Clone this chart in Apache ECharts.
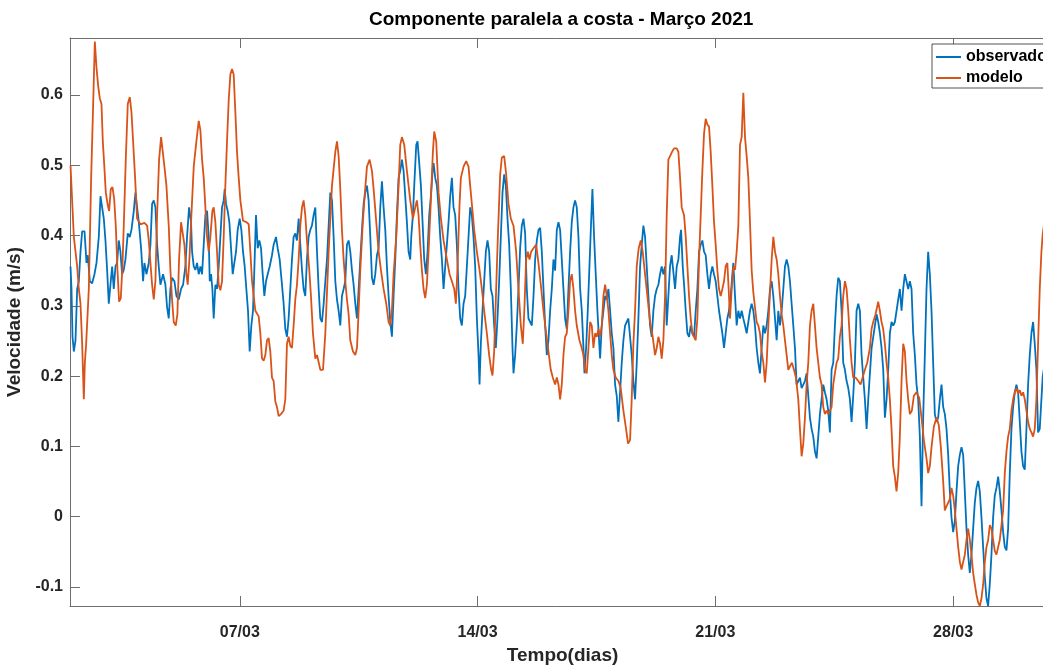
<!DOCTYPE html>
<html>
<head>
<meta charset="utf-8">
<script src="https://cdn.jsdelivr.net/npm/echarts@6/dist/echarts.min.js"></script>
<style>
html,body{margin:0;padding:0;background:#fff;overflow:hidden;}
#chart{width:1043px;height:665px;}
</style>
</head>
<body>
<div id="chart"></div>
<script>
// time in days of March 2021 (2.0 = 02/03 00:00), velocity in m/s
const observado = [
[2.015,.356],[2.044,.324],[2.074,.256],[2.113,.235],[2.162,.251],[2.211,.324],[2.260,.335],[2.309,.377],[2.358,.406],[2.427,.406],
[2.486,.361],[2.525,.372],[2.584,.335],[2.652,.332],[2.721,.345],[2.780,.361],[2.848,.398],[2.897,.456],[2.946,.440],[2.995,.424],
[3.044,.393],[3.093,.351],[3.142,.303],[3.191,.330],[3.240,.356],[3.289,.324],[3.338,.356],[3.387,.361],[3.436,.393],[3.485,.377],
[3.534,.345],[3.583,.351],[3.632,.366],[3.701,.403],[3.760,.398],[3.809,.408],[3.878,.435],[3.927,.461],[3.976,.440],[4.025,.419],
[4.093,.382],[4.152,.335],[4.191,.361],[4.250,.345],[4.319,.361],[4.368,.387],[4.417,.445],[4.466,.450],[4.515,.440],[4.564,.387],
[4.613,.356],[4.662,.330],[4.740,.345],[4.809,.330],[4.858,.298],[4.907,.282],[4.956,.324],[5.005,.340],[5.074,.335],[5.133,.314],
[5.201,.309],[5.270,.324],[5.329,.330],[5.397,.356],[5.446,.398],[5.505,.440],[5.564,.419],[5.594,.377],[5.643,.356],[5.692,.351],
[5.741,.361],[5.790,.345],[5.839,.356],[5.888,.345],[5.937,.387],[5.986,.429],[6.035,.435],[6.084,.398],[6.114,.335],[6.153,.345],
[6.192,.324],[6.231,.282],[6.280,.330],[6.329,.324],[6.378,.356],[6.427,.398],[6.476,.440],[6.525,.450],[6.555,.466],[6.594,.445],
[6.643,.435],[6.692,.419],[6.741,.382],[6.790,.345],[6.839,.345],[6.888,.377],[6.937,.408],[6.996,.424],[7.045,.408],[7.094,.377],
[7.143,.356],[7.192,.324],[7.241,.293],[7.290,.235],[7.339,.272],[7.388,.293],[7.427,.351],[7.476,.429],[7.526,.382],[7.575,.393],
[7.624,.382],[7.673,.345],[7.722,.314],[7.771,.335],[7.820,.345],[7.879,.356],[7.947,.372],[7.996,.387],[8.065,.398],[8.114,.382],
[8.173,.366],[8.232,.335],[8.290,.303],[8.339,.267],[8.388,.256],[8.437,.282],[8.486,.324],[8.535,.366],[8.584,.398],[8.633,.403],
[8.682,.393],[8.732,.424],[8.781,.387],[8.830,.351],[8.878,.324],[8.927,.314],[8.976,.366],[9.025,.398],[9.074,.408],[9.123,.414],
[9.172,.429],[9.222,.440],[9.272,.377],[9.321,.324],[9.370,.282],[9.419,.277],[9.468,.303],[9.517,.335],[9.566,.366],[9.615,.414],
[9.664,.461],[9.713,.450],[9.762,.398],[9.811,.335],[9.860,.309],[9.909,.293],[9.958,.272],[10.007,.314],[10.056,.324],[10.105,.335],
[10.154,.387],[10.203,.393],[10.252,.377],[10.301,.351],[10.350,.330],[10.400,.303],[10.449,.282],[10.498,.324],[10.547,.366],[10.596,.408],
[10.645,.445],[10.694,.461],[10.743,.471],[10.792,.450],[10.841,.398],[10.890,.340],[10.939,.330],[10.988,.345],[11.037,.372],[11.086,.382],
[11.135,.440],[11.184,.477],[11.233,.440],[11.282,.408],[11.331,.356],[11.380,.314],[11.429,.277],[11.478,.256],[11.527,.314],[11.576,.366],
[11.625,.429],[11.674,.482],[11.723,.492],[11.772,.508],[11.821,.492],[11.870,.456],[11.919,.419],[11.968,.377],[12.017,.366],[12.047,.398],
[12.096,.429],[12.135,.471],[12.194,.529],[12.233,.534],[12.282,.503],[12.331,.471],[12.380,.419],[12.429,.366],[12.478,.345],[12.527,.377],
[12.576,.429],[12.625,.456],[12.684,.498],[12.704,.503],[12.753,.482],[12.802,.471],[12.851,.440],[12.900,.398],[12.949,.366],[12.998,.324],
[13.047,.356],[13.096,.387],[13.145,.419],[13.194,.456],[13.243,.482],[13.292,.440],[13.341,.429],[13.390,.387],[13.439,.324],[13.488,.282],
[13.537,.272],[13.586,.303],[13.635,.314],[13.684,.356],[13.733,.398],[13.782,.440],[13.831,.429],[13.880,.398],[13.929,.356],[13.979,.282],
[14.028,.230],[14.057,.188],[14.096,.246],[14.145,.293],[14.194,.335],[14.243,.377],[14.292,.393],[14.341,.377],[14.390,.324],[14.439,.314],
[14.488,.272],[14.537,.240],[14.586,.282],[14.635,.335],[14.684,.398],[14.734,.461],[14.783,.487],[14.832,.471],[14.881,.424],[14.930,.387],
[14.979,.324],[15.028,.240],[15.057,.204],[15.106,.230],[15.155,.272],[15.204,.324],[15.253,.382],[15.302,.414],[15.351,.424],[15.400,.403],
[15.449,.324],[15.498,.282],[15.548,.277],[15.597,.272],[15.646,.314],[15.695,.366],[15.744,.393],[15.793,.408],[15.842,.411],[15.891,.377],
[15.940,.324],[15.989,.272],[16.038,.230],[16.087,.251],[16.136,.293],[16.185,.324],[16.234,.366],[16.283,.350],[16.332,.408],[16.381,.419],
[16.430,.408],[16.479,.366],[16.528,.324],[16.577,.282],[16.626,.267],[16.675,.324],[16.724,.377],[16.773,.419],[16.822,.440],[16.871,.450],
[16.920,.440],[16.970,.398],[17.019,.324],[17.068,.293],[17.117,.240],[17.146,.204],[17.195,.240],[17.244,.293],[17.293,.356],[17.342,.419],
[17.381,.466],[17.430,.398],[17.479,.345],[17.528,.293],[17.577,.251],[17.607,.225],[17.656,.272],[17.705,.293],[17.754,.314],[17.803,.309],
[17.852,.324],[17.901,.293],[17.950,.261],[17.999,.240],[18.048,.188],[18.097,.172],[18.146,.135],[18.195,.177],[18.244,.219],[18.293,.251],
[18.342,.272],[18.391,.277],[18.440,.282],[18.489,.256],[18.538,.230],[18.587,.193],[18.636,.167],[18.686,.219],[18.735,.282],[18.784,.356],
[18.833,.387],[18.882,.414],[18.931,.398],[18.980,.356],[19.029,.314],[19.078,.272],[19.127,.256],[19.176,.293],[19.225,.314],[19.274,.324],
[19.323,.330],[19.372,.345],[19.421,.356],[19.470,.345],[19.519,.356],[19.568,.272],[19.617,.314],[19.666,.356],[19.715,.372],[19.764,.370],
[19.814,.324],[19.863,.356],[19.912,.366],[19.961,.398],[19.991,.408],[20.040,.356],[20.079,.330],[20.128,.293],[20.177,.261],[20.226,.256],
[20.275,.272],[20.324,.261],[20.373,.256],[20.422,.293],[20.471,.324],[20.520,.377],[20.569,.387],[20.618,.393],[20.667,.377],[20.716,.372],
[20.765,.345],[20.814,.324],[20.863,.345],[20.912,.356],[20.961,.345],[21.010,.335],[21.059,.314],[21.108,.293],[21.157,.277],[21.206,.261],
[21.255,.240],[21.304,.261],[21.353,.282],[21.402,.293],[21.452,.314],[21.501,.345],[21.530,.361],[21.579,.314],[21.628,.272],[21.677,.293],
[21.726,.282],[21.775,.293],[21.824,.282],[21.873,.272],[21.922,.261],[21.971,.277],[22.020,.293],[22.069,.303],[22.118,.293],[22.167,.272],
[22.216,.240],[22.265,.219],[22.314,.204],[22.363,.240],[22.413,.272],[22.462,.261],[22.511,.272],[22.560,.293],[22.609,.324],[22.658,.335],
[22.707,.314],[22.756,.282],[22.805,.251],[22.854,.293],[22.903,.272],[22.952,.293],[23.001,.324],[23.050,.356],[23.099,.366],[23.148,.356],
[23.197,.335],[23.246,.303],[23.295,.272],[23.344,.240],[23.393,.188],[23.442,.193],[23.491,.198],[23.540,.183],[23.589,.188],[23.638,.193],
[23.687,.204],[23.736,.172],[23.785,.141],[23.834,.125],[23.883,.114],[23.932,.093],[23.981,.083],[24.030,.114],[24.079,.146],[24.128,.167],
[24.177,.188],[24.226,.177],[24.275,.167],[24.324,.151],[24.373,.120],[24.422,.209],[24.471,.219],[24.520,.272],[24.569,.314],[24.618,.340],
[24.667,.335],[24.716,.293],[24.765,.219],[24.815,.209],[24.864,.193],[24.913,.183],[24.962,.167],[25.011,.135],[25.060,.172],[25.109,.219],
[25.158,.293],[25.207,.303],[25.256,.293],[25.305,.230],[25.354,.198],[25.403,.167],[25.453,.125],[25.502,.167],[25.551,.204],[25.600,.240],
[25.649,.256],[25.698,.272],[25.747,.288],[25.796,.277],[25.845,.261],[25.894,.240],[25.943,.209],[25.992,.141],[26.041,.167],[26.090,.209],
[26.139,.261],[26.188,.277],[26.237,.272],[26.286,.277],[26.335,.293],[26.384,.309],[26.433,.324],[26.482,.293],[26.531,.324],[26.580,.345],
[26.629,.345],[26.678,.324],[26.727,.335],[26.776,.324],[26.825,.261],[26.874,.230],[26.923,.188],[26.972,.167],[27.021,.114],[27.070,.015],
[27.119,.141],[27.168,.230],[27.217,.324],[27.266,.377],[27.315,.345],[27.364,.293],[27.413,.219],[27.462,.146],[27.511,.135],[27.560,.141],
[27.610,.167],[27.659,.188],[27.708,.156],[27.757,.146],[27.806,.125],[27.855,.088],[27.904,.036],[27.953,-.001],[28.002,-.022],[28.051,-.006],
[28.100,.036],[28.149,.072],[28.198,.088],[28.247,.099],[28.296,.088],[28.345,.036],[28.394,-.017],[28.443,-.054],[28.492,-.080],[28.541,-.054],
[28.590,-.017],[28.639,.020],[28.688,.041],[28.737,.051],[28.786,.036],[28.835,-.001],[28.884,-.043],[28.933,-.085],[28.982,-.116],[29.031,-.127],
[29.080,-.096],[29.129,-.054],[29.178,-.001],[29.227,.030],[29.276,.041],[29.326,.057],[29.375,.036],[29.424,.009],[29.473,-.022],[29.522,-.043],
[29.571,-.048],[29.620,-.017],[29.669,.062],[29.718,.125],[29.767,.156],[29.816,.177],[29.865,.188],[29.914,.177],[29.963,.135],[30.012,.093],
[30.061,.072],[30.110,.067],[30.159,.125],[30.208,.188],[30.257,.230],[30.306,.261],[30.355,.277],[30.404,.246],[30.453,.209],[30.502,.120],
[30.551,.125],[30.600,.167],[30.640,.200],[30.800,.250],[31.000,.220]
];
const modelo = [
[2.015,.500],[2.113,.398],[2.211,.356],[2.260,.324],[2.309,.303],[2.358,.246],[2.407,.167],[2.437,.219],[2.476,.246],[2.554,.324],
[2.623,.482],[2.682,.587],[2.731,.676],[2.780,.639],[2.829,.613],[2.878,.595],[2.927,.587],[2.966,.534],[3.005,.503],[3.054,.461],
[3.113,.443],[3.152,.435],[3.201,.466],[3.250,.469],[3.299,.453],[3.348,.414],[3.397,.351],[3.446,.306],[3.495,.311],[3.544,.356],
[3.593,.429],[3.642,.508],[3.701,.587],[3.760,.597],[3.809,.576],[3.858,.534],[3.917,.482],[3.976,.424],[4.074,.416],[4.191,.418],
[4.270,.414],[4.319,.393],[4.368,.361],[4.417,.330],[4.466,.309],[4.515,.335],[4.564,.429],[4.623,.508],[4.682,.540],[4.731,.542],
[4.780,.498],[4.839,.471],[4.907,.414],[4.956,.351],[5.005,.309],[5.054,.277],[5.113,.272],[5.162,.288],[5.211,.366],[5.270,.419],
[5.319,.421],[5.368,.387],[5.427,.345],[5.466,.330],[5.515,.366],[5.574,.429],[5.643,.498],[5.721,.534],[5.790,.563],[5.839,.550],
[5.888,.508],[5.937,.482],[5.986,.440],[6.035,.398],[6.084,.377],[6.133,.398],[6.192,.435],[6.231,.440],[6.280,.419],[6.329,.377],
[6.378,.330],[6.427,.322],[6.476,.335],[6.525,.398],[6.574,.471],[6.623,.534],[6.672,.592],[6.721,.629],[6.770,.637],[6.819,.629],
[6.868,.576],[6.917,.519],[6.967,.482],[7.016,.450],[7.094,.421],[7.192,.419],[7.261,.416],[7.310,.377],[7.359,.335],[7.408,.314],
[7.457,.293],[7.555,.285],[7.604,.261],[7.653,.225],[7.702,.222],[7.751,.230],[7.800,.251],[7.849,.254],[7.898,.235],[7.947,.198],
[7.996,.193],[8.045,.164],[8.094,.156],[8.143,.143],[8.212,.146],[8.290,.151],[8.339,.167],[8.388,.246],[8.437,.256],[8.486,.243],
[8.535,.240],[8.584,.272],[8.633,.309],[8.682,.330],[8.732,.366],[8.781,.414],[8.830,.440],[8.878,.450],[8.927,.429],[8.976,.393],
[9.045,.351],[9.094,.314],[9.153,.261],[9.222,.225],[9.272,.230],[9.370,.209],[9.449,.209],[9.517,.261],[9.615,.377],[9.713,.471],
[9.811,.519],[9.860,.534],[9.909,.513],[9.958,.466],[10.007,.408],[10.056,.366],[10.105,.335],[10.154,.309],[10.203,.288],[10.252,.251],
[10.331,.235],[10.400,.230],[10.449,.240],[10.498,.293],[10.547,.351],[10.615,.414],[10.674,.456],[10.743,.498],[10.821,.508],[10.890,.492],
[10.939,.466],[11.017,.419],[11.086,.377],[11.154,.351],[11.233,.324],[11.311,.303],[11.380,.277],[11.429,.272],[11.478,.293],[11.527,.345],
[11.605,.398],[11.674,.471],[11.723,.529],[11.772,.540],[11.841,.529],[11.919,.492],[12.017,.450],[12.096,.424],[12.164,.440],[12.213,.450],
[12.262,.429],[12.311,.387],[12.360,.351],[12.409,.324],[12.458,.311],[12.507,.330],[12.556,.377],[12.625,.450],[12.684,.519],[12.724,.548],
[12.782,.534],[12.851,.461],[12.920,.424],[12.998,.393],[13.096,.366],[13.175,.345],[13.243,.335],[13.312,.324],[13.361,.303],[13.410,.356],
[13.469,.445],[13.508,.482],[13.586,.498],[13.665,.506],[13.733,.498],[13.782,.471],[13.831,.445],[13.900,.408],[13.979,.377],[14.057,.351],
[14.126,.324],[14.194,.293],[14.273,.261],[14.341,.230],[14.400,.209],[14.439,.201],[14.488,.235],[14.547,.324],[14.596,.398],[14.665,.487],
[14.714,.511],[14.783,.513],[14.842,.487],[14.910,.445],[14.979,.424],[15.057,.414],[15.135,.377],[15.204,.324],[15.273,.272],[15.331,.246],
[15.380,.298],[15.429,.366],[15.479,.377],[15.528,.366],[15.577,.377],[15.645,.382],[15.724,.387],[15.792,.361],[15.861,.330],[15.939,.293],
[16.018,.261],[16.087,.235],[16.155,.209],[16.214,.198],[16.283,.188],[16.332,.198],[16.381,.188],[16.430,.167],[16.479,.188],[16.528,.230],
[16.577,.256],[16.626,.261],[16.675,.293],[16.724,.335],[16.773,.345],[16.822,.324],[16.871,.293],[16.920,.272],[16.999,.251],[17.067,.240],
[17.116,.230],[17.165,.209],[17.214,.204],[17.264,.240],[17.313,.277],[17.362,.272],[17.411,.240],[17.460,.261],[17.509,.256],[17.558,.267],
[17.607,.256],[17.656,.272],[17.705,.314],[17.754,.330],[17.803,.314],[17.852,.293],[17.901,.261],[17.950,.230],[17.999,.209],[18.067,.198],
[18.146,.193],[18.214,.183],[18.293,.151],[18.371,.125],[18.430,.104],[18.489,.109],[18.538,.167],[18.587,.246],[18.636,.293],[18.685,.356],
[18.744,.382],[18.803,.393],[18.861,.377],[18.930,.345],[18.999,.314],[19.077,.277],[19.156,.256],[19.225,.230],[19.274,.240],[19.323,.256],
[19.372,.246],[19.421,.225],[19.470,.251],[19.519,.314],[19.568,.429],[19.617,.508],[19.666,.513],[19.725,.519],[19.784,.524],[19.863,.524],
[19.912,.519],[19.961,.482],[20.010,.440],[20.079,.429],[20.128,.398],[20.177,.356],[20.226,.314],[20.275,.282],[20.324,.261],[20.373,.256],
[20.422,.251],[20.471,.282],[20.520,.366],[20.569,.429],[20.618,.492],[20.667,.545],[20.716,.566],[20.765,.558],[20.814,.555],[20.863,.519],
[20.912,.471],[20.961,.419],[21.010,.387],[21.059,.351],[21.108,.324],[21.157,.314],[21.206,.324],[21.255,.335],[21.304,.356],[21.353,.361],
[21.392,.324],[21.432,.282],[21.481,.324],[21.530,.356],[21.579,.351],[21.628,.377],[21.677,.414],[21.726,.529],[21.775,.540],[21.824,.603],
[21.873,.540],[21.922,.513],[21.971,.482],[22.020,.419],[22.069,.351],[22.118,.319],[22.167,.298],[22.216,.277],[22.265,.272],[22.314,.261],
[22.363,.235],[22.413,.219],[22.462,.191],[22.511,.219],[22.560,.272],[22.609,.319],[22.658,.366],[22.707,.398],[22.756,.377],[22.805,.366],
[22.854,.345],[22.903,.314],[22.952,.288],[23.001,.272],[23.050,.251],[23.099,.230],[23.148,.209],[23.197,.214],[23.256,.219],[23.315,.209],
[23.373,.198],[23.442,.167],[23.491,.125],[23.540,.086],[23.589,.104],[23.638,.141],[23.687,.188],[23.736,.219],[23.785,.272],[23.834,.293],
[23.883,.303],[23.932,.272],[23.981,.240],[24.030,.219],[24.079,.198],[24.128,.188],[24.177,.156],[24.226,.146],[24.275,.151],[24.324,.146],
[24.373,.146],[24.422,.156],[24.471,.188],[24.520,.204],[24.569,.219],[24.618,.225],[24.667,.256],[24.716,.272],[24.765,.314],[24.815,.335],
[24.864,.324],[24.913,.293],[24.962,.251],[25.011,.219],[25.060,.198],[25.128,.198],[25.207,.193],[25.276,.188],[25.334,.188],[25.403,.209],
[25.472,.219],[25.550,.240],[25.599,.267],[25.648,.277],[25.717,.288],[25.795,.306],[25.844,.293],[25.893,.277],[25.942,.267],[25.991,.246],
[26.040,.219],[26.089,.198],[26.138,.167],[26.187,.125],[26.236,.072],[26.285,.057],[26.334,.036],[26.383,.062],[26.432,.114],[26.482,.193],
[26.531,.246],[26.580,.235],[26.629,.193],[26.678,.167],[26.727,.146],[26.786,.151],[26.845,.172],[26.923,.177],[27.002,.169],[27.070,.141],
[27.139,.109],[27.217,.083],[27.266,.062],[27.315,.072],[27.364,.099],[27.433,.128],[27.511,.141],[27.580,.130],[27.639,.099],[27.707,.051],
[27.756,.009],[27.825,.017],[27.904,.025],[27.953,.041],[28.002,.030],[28.051,.009],[28.100,-.017],[28.149,-.043],[28.198,-.064],[28.247,-.075],
[28.296,-.077],[28.345,-.054],[28.394,-.033],[28.443,-.017],[28.492,-.033],[28.541,-.054],[28.590,-.080],[28.639,-.096],[28.688,-.111],[28.737,-.122],
[28.786,-.127],[28.836,-.116],[28.885,-.096],[28.934,-.064],[28.983,-.043],[29.032,-.033],[29.081,-.012],[29.130,-.017],[29.179,-.033],[29.228,-.049],
[29.277,-.054],[29.326,-.043],[29.375,-.033],[29.424,-.012],[29.473,.009],[29.522,.062],[29.571,.093],[29.620,.114],[29.669,.125],[29.718,.151],
[29.767,.167],[29.816,.177],[29.865,.183],[29.914,.175],[29.963,.180],[30.012,.172],[30.061,.177],[30.110,.167],[30.159,.151],[30.208,.135],
[30.257,.125],[30.306,.120],[30.355,.114],[30.404,.125],[30.453,.167],[30.502,.246],[30.551,.324],[30.600,.377],[30.640,.403],[30.750,.440],
[30.900,.430],[31.000,.400]
];
const xTickDays = [7, 14, 21, 28];
const yTickVals = [-0.1, 0, 0.1, 0.2, 0.3, 0.4, 0.5, 0.6];
const xRange = [2, 31];
const yRange = [-0.127, 0.681];

const FONT = "'Liberation Sans', Arial, Helvetica, sans-serif";
const AX = '#6e6e6e';
const TXT = '#262626';

const chart = echarts.init(document.getElementById('chart'), null, {renderer: 'canvas'});
const fmtX = v => String(Math.round(v)).padStart(2, '0') + '/03';
const fmtY = v => { const r = Math.round(v * 10) / 10; return r === 0 ? '0' : String(r); };

chart.setOption({
  animation: false,
  backgroundColor: '#ffffff',
  title: {
    text: 'Componente paralela a costa - Março 2021',
    left: 369, top: 10, padding: 0,
    textStyle: {fontFamily: FONT, fontWeight: 'bold', fontSize: 19, color: '#000'}
  },
  legend: {
    orient: 'vertical',
    left: 932, top: 44,
    padding: [5, 40, 2, 4],
    icon: 'rect',
    itemWidth: 25, itemHeight: 2, itemGap: 5,
    backgroundColor: '#fff',
    borderColor: '#262626', borderWidth: 0.8, borderRadius: 0,
    textStyle: {fontFamily: FONT, fontWeight: 'bold', fontSize: 16, color: '#000'},
    data: ['observado', 'modelo']
  },
  grid: {left: 70, top: 38, width: 985, height: 568, containLabel: false, outerBoundsMode: 'none', show: false},
  xAxis: [{
    type: 'value', position: 'bottom', min: xRange[0], max: xRange[1],
    axisLine: {show: true, onZero: false, lineStyle: {color: AX, width: 1}},
    axisTick: {show: true, inside: true, length: 10, customValues: xTickDays, lineStyle: {color: AX, width: 1}},
    axisLabel: {show: true, customValues: xTickDays, formatter: fmtX, margin: 19,
      fontFamily: FONT, fontWeight: 'bold', fontSize: 16, color: TXT},
    splitLine: {show: false},
    name: 'Tempo(dias)', nameLocation: 'middle', nameGap: 40,
    nameTextStyle: {fontFamily: FONT, fontWeight: 'bold', fontSize: 19, color: TXT}
  }, {
    type: 'value', position: 'top', min: xRange[0], max: xRange[1],
    axisLine: {show: true, onZero: false, lineStyle: {color: AX, width: 1}},
    axisTick: {show: true, inside: true, length: 10, customValues: xTickDays, lineStyle: {color: AX, width: 1}},
    axisLabel: {show: false}, splitLine: {show: false}
  }],
  yAxis: [{
    type: 'value', position: 'left', min: yRange[0], max: yRange[1],
    axisLine: {show: true, onZero: false, lineStyle: {color: AX, width: 1}},
    axisTick: {show: true, inside: true, length: 10, customValues: yTickVals, lineStyle: {color: AX, width: 1}},
    axisLabel: {show: true, customValues: yTickVals, formatter: fmtY, margin: 7,
      fontFamily: FONT, fontWeight: 'bold', fontSize: 16, color: TXT},
    splitLine: {show: false},
    name: 'Velocidade (m/s)', nameLocation: 'middle', nameGap: 29, nameRotate: 90,
    nameTextStyle: {fontFamily: FONT, fontWeight: 'bold', fontSize: 19, color: TXT}
  }, {
    type: 'value', position: 'right', min: yRange[0], max: yRange[1],
    axisLine: {show: true, onZero: false, lineStyle: {color: AX, width: 1}},
    axisTick: {show: true, inside: true, length: 10, customValues: yTickVals, lineStyle: {color: AX, width: 1}},
    axisLabel: {show: false}, splitLine: {show: false}
  }],
  series: [{
    name: 'observado', type: 'line', data: observado,
    xAxisIndex: 0, yAxisIndex: 0,
    symbol: 'none', showSymbol: false, smooth: false,
    lineStyle: {color: '#0072BD', width: 1.8}, itemStyle: {color: '#0072BD'}
  }, {
    name: 'modelo', type: 'line', data: modelo,
    xAxisIndex: 0, yAxisIndex: 0,
    symbol: 'none', showSymbol: false, smooth: false,
    lineStyle: {color: '#D95319', width: 1.8}, itemStyle: {color: '#D95319'}
  }]
});
</script>
</body>
</html>
